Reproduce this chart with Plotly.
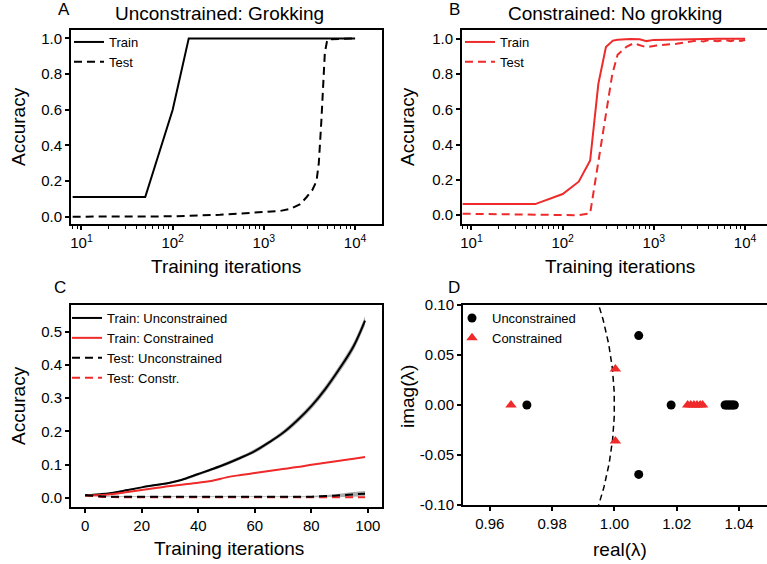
import numpy as np
import plotly.graph_objects as go

W, H = 767, 564

# ---------------- data ----------------
# Panel A: unconstrained (grokking)
a_train_x = [8, 50, 100, 150, 10000]
a_train_y = [0.11, 0.11, 0.60, 1.0, 1.0]
a_test_x = [8, 100, 330, 1000, 1500, 1930, 2500, 2930, 3400, 3775, 4000, 4270, 4660, 4900, 5040, 10000]
a_test_y = [0.0, 0.002, 0.011, 0.024, 0.032, 0.043, 0.07, 0.109, 0.15, 0.2, 0.3, 0.54, 0.92, 0.98, 0.995, 1.0]

# Panel B: constrained (no grokking)
b_train_x = [8, 50, 100, 150, 200, 246, 298, 355, 400, 550, 700, 830, 1000, 2000, 5000, 10000]
b_train_y = [0.063, 0.063, 0.12, 0.19, 0.31, 0.745, 0.953, 0.99, 0.995, 0.999, 0.997, 0.987, 0.994, 0.998, 1.0, 1.0]
b_test_x = [8, 100, 150, 200, 250, 300, 350, 400, 500, 600, 830, 1070, 1770, 2930, 3500, 4000,
            5000, 6000, 7000, 8000, 9000, 10000]
b_test_y = [0.008, 0.003, 0.0, 0.01, 0.33, 0.58, 0.8, 0.91, 0.955, 0.975, 0.952, 0.962, 0.972, 0.99,
            0.985, 0.993, 0.986, 0.994, 0.987, 0.995, 0.988, 0.993]

# Panel C: first 100 iterations (mean and spread)
c_x = [0, 5, 10, 15, 20, 25, 30, 34, 40, 45, 50, 55, 60, 65, 70, 75, 80, 85, 90, 95, 99]
c_train_unc = [0.007, 0.011, 0.016, 0.024, 0.032, 0.039, 0.046, 0.054, 0.072, 0.087, 0.103, 0.121,
               0.141, 0.167, 0.196, 0.233, 0.276, 0.328, 0.389, 0.457, 0.533]
c_train_unc_sd = [0.001, 0.001, 0.002, 0.002, 0.002, 0.003, 0.003, 0.003, 0.004, 0.004, 0.005, 0.005,
                  0.006, 0.006, 0.007, 0.008, 0.009, 0.010, 0.011, 0.012, 0.013]
c_train_con = [0.007, 0.009, 0.012, 0.018, 0.024, 0.030, 0.036, 0.040, 0.046, 0.052, 0.062, 0.069,
               0.075, 0.081, 0.087, 0.093, 0.100, 0.106, 0.112, 0.118, 0.123]
c_train_con_sd = [0.0015] * 21
c_test_unc = [0.009, 0.005, 0.004, 0.004, 0.004, 0.004, 0.004, 0.004, 0.004, 0.004, 0.004, 0.004,
              0.004, 0.004, 0.004, 0.004, 0.004, 0.006, 0.008, 0.011, 0.013]
c_test_unc_sd = [0.001, 0.001, 0.001, 0.001, 0.001, 0.001, 0.001, 0.001, 0.001, 0.001, 0.001, 0.001,
                 0.001, 0.001, 0.001, 0.001, 0.002, 0.003, 0.005, 0.007, 0.008]
c_test_con = [0.009, 0.004, 0.003, 0.002, 0.002, 0.002, 0.002, 0.002, 0.002, 0.002, 0.002, 0.002,
              0.002, 0.002, 0.002, 0.002, 0.002, 0.002, 0.002, 0.002, 0.002]

# Panel D: eigenvalues
d_unc_re = [0.9719, 1.0078, 1.0078, 1.0182, 1.0355, 1.036, 1.0365, 1.037, 1.0375, 1.038, 1.0385]
d_unc_im = [0.0, 0.0694, -0.0694, 0.0, 0.0, 0.0, 0.0, 0.0, 0.0, 0.0, 0.0]
d_con_re = [0.9668, 1.0003, 1.0003, 1.0235, 1.0245, 1.0255, 1.0265, 1.0275, 1.0283]
d_con_im = [0.0, 0.036, -0.036, 0.0, 0.0, 0.0, 0.0, 0.0, 0.0]

log_ticks = [10, 100, 1000, 10000]
log_ticktext = ["10<sup>1</sup>", "10<sup>2</sup>", "10<sup>3</sup>", "10<sup>4</sup>"]
acc_ticks = [0.0, 0.2, 0.4, 0.6, 0.8, 1.0]
c_yticks = [0.0, 0.1, 0.2, 0.3, 0.4, 0.5]
c_xticks = [0, 20, 40, 60, 80, 100]
d_xticks = [0.96, 0.98, 1.00, 1.02, 1.04]
d_yticks = [-0.10, -0.05, 0.0, 0.05, 0.10]

RED = "#ee2a2a"
FONT = "Arial, Liberation Sans, sans-serif"
DASH = "8px,5px"

def xd(a, b):
    return [a / W, b / W]

def yd(top, bottom):
    return [1 - bottom / H, 1 - top / H]

def px(x, y):
    return x / W, 1 - y / H

minor_log = [m * 10 ** k for k in range(0, 5) for m in range(2, 10)]

fig = go.Figure()

# ---- Panel A ----
fig.add_trace(go.Scatter(x=a_train_x, y=a_train_y, mode="lines", name="Train",
                         line=dict(color="black", width=2), xaxis="x", yaxis="y", legend="legend"))
fig.add_trace(go.Scatter(x=a_test_x, y=a_test_y, mode="lines", name="Test",
                         line=dict(color="black", width=2, dash=DASH), xaxis="x", yaxis="y", legend="legend"))

# ---- Panel B ----
fig.add_trace(go.Scatter(x=b_train_x, y=b_train_y, mode="lines", name="Train",
                         line=dict(color=RED, width=2), xaxis="x2", yaxis="y2", legend="legend2"))
fig.add_trace(go.Scatter(x=b_test_x, y=b_test_y, mode="lines", name="Test",
                         line=dict(color=RED, width=2, dash=DASH), xaxis="x2", yaxis="y2", legend="legend2"))

# ---- Panel C ----
def band(x, y, sd, color, ax, ay):
    lo = [v - s for v, s in zip(y, sd)]
    hi = [v + s for v, s in zip(y, sd)]
    fig.add_trace(go.Scatter(x=x, y=lo, mode="lines", line=dict(width=0, color=color, shape="spline"),
                             showlegend=False, hoverinfo="skip", xaxis=ax, yaxis=ay))
    fig.add_trace(go.Scatter(x=x, y=hi, mode="lines", line=dict(width=0, color=color, shape="spline"),
                             fill="tonexty", fillcolor=color, showlegend=False, hoverinfo="skip",
                             xaxis=ax, yaxis=ay))

band(c_x, c_train_unc, c_train_unc_sd, "rgba(120,120,120,0.6)", "x3", "y3")
band(c_x, c_test_unc, c_test_unc_sd, "rgba(120,120,120,0.6)", "x3", "y3")
band(c_x, c_train_con, c_train_con_sd, "rgba(240,120,120,0.4)", "x3", "y3")

fig.add_trace(go.Scatter(x=c_x, y=c_train_unc, mode="lines", name="Train: Unconstrained",
                         line=dict(color="black", width=2, shape="spline"), xaxis="x3", yaxis="y3",
                         legend="legend3", legendrank=1001))
fig.add_trace(go.Scatter(x=c_x, y=c_train_con, mode="lines", name="Train: Constrained",
                         line=dict(color=RED, width=2, shape="spline"), xaxis="x3", yaxis="y3",
                         legend="legend3", legendrank=1002))
fig.add_trace(go.Scatter(x=c_x, y=c_test_con, mode="lines", name="Test: Constr.",
                         line=dict(color=RED, width=2, dash=DASH, shape="spline"), xaxis="x3", yaxis="y3",
                         legend="legend3", legendrank=1004))
fig.add_trace(go.Scatter(x=c_x, y=c_test_unc, mode="lines", name="Test: Unconstrained",
                         line=dict(color="black", width=2, dash=DASH, shape="spline"), xaxis="x3", yaxis="y3",
                         legend="legend3", legendrank=1003))

# ---- Panel D ----
theta = np.linspace(-np.arcsin(0.105), np.arcsin(0.105), 80)
fig.add_trace(go.Scatter(x=np.cos(theta), y=np.sin(theta), mode="lines", showlegend=False,
                         line=dict(color="black", width=1.5, dash="6px,4px"), xaxis="x4", yaxis="y4",
                         hoverinfo="skip"))
fig.add_trace(go.Scatter(x=d_unc_re, y=d_unc_im, mode="markers", name="Unconstrained",
                         marker=dict(color="black", size=9, symbol="circle"), xaxis="x4", yaxis="y4",
                         legend="legend4"))
fig.add_trace(go.Scatter(x=d_con_re, y=d_con_im, mode="markers", name="Constrained",
                         marker=dict(color=RED, size=10, symbol="triangle-up"), xaxis="x4", yaxis="y4",
                         legend="legend4"))

axis_common = dict(showline=True, linewidth=2, linecolor="black", ticks="outside", ticklen=4,
                   tickwidth=1.5, tickcolor="black", showgrid=False, zeroline=False, automargin=False,
                   tickfont=dict(size=15, color="black", family=FONT))

fig.update_layout(
    width=W, height=H, margin=dict(l=0, r=0, t=0, b=0, autoexpand=False),
    paper_bgcolor="white", plot_bgcolor="white",
    font=dict(family=FONT, color="black"),
    xaxis=dict(axis_common, type="log", domain=xd(71, 382), range=[0.885, 4.295], mirror=True,
               tickvals=log_ticks, ticktext=log_ticktext, anchor="y",
               minor=dict(tickvals=minor_log, ticks="outside", ticklen=3, tickwidth=1.2, tickcolor="black")),
    yaxis=dict(axis_common, domain=yd(30, 224), range=[-0.041, 1.047], mirror=True,
               tickvals=acc_ticks, tickformat=".1f", anchor="x"),
    xaxis2=dict(axis_common, type="log", domain=xd(462, 767), range=[0.896, 0.896 + 305 / 91.2], mirror=True,
                tickvals=log_ticks, ticktext=log_ticktext, anchor="y2",
                minor=dict(tickvals=minor_log, ticks="outside", ticklen=3, tickwidth=1.2, tickcolor="black")),
    yaxis2=dict(axis_common, domain=yd(30, 224), range=[-0.05, 1.05], mirror=False,
                tickvals=acc_ticks, tickformat=".1f", anchor="x2"),
    xaxis3=dict(axis_common, domain=xd(71, 382), range=[-5, 105], mirror=True,
                tickvals=c_xticks, anchor="y3"),
    yaxis3=dict(axis_common, domain=yd(305, 507), range=[-0.027, 0.58], mirror=True,
                tickvals=c_yticks, tickformat=".1f", anchor="x3"),
    xaxis4=dict(axis_common, domain=xd(463, 767), range=[0.9514, 0.9514 + 304 / 3116], mirror=True,
                tickvals=d_xticks, tickformat=".2f", anchor="y4"),
    yaxis4=dict(axis_common, domain=yd(305, 505), range=[-0.1, 0.1], mirror=False,
                tickvals=d_yticks, ticktext=["%.2f" % v for v in d_yticks], anchor="x4"),
    showlegend=True,
)

leg_common = dict(xanchor="left", yanchor="top", bgcolor="rgba(0,0,0,0)", traceorder="normal",
                  font=dict(size=13, family=FONT, color="black"), tracegroupgap=0, itemwidth=30)
lx, ly = px(69, 27)
fig.update_layout(legend=dict(leg_common, x=lx, y=ly))
lx, ly = px(460, 27)
fig.update_layout(legend2=dict(leg_common, x=lx, y=ly))
lx, ly = px(67, 303)
fig.update_layout(legend3=dict(leg_common, x=lx, y=ly))
lx, ly = px(452, 303)
fig.update_layout(legend4=dict(leg_common, x=lx, y=ly))

annots = [
    ("A", 64, 10, 17, 0), ("B", 454, 10, 17, 0), ("C", 60, 287, 17, 0), ("D", 454, 287, 17, 0),
    ("Unconstrained: Grokking", 219, 13, 19, 0), ("Constrained: No grokking", 615, 13, 19, 0),
    ("Accuracy", 18, 127, 19, -90), ("Accuracy", 407, 127, 19, -90),
    ("Accuracy", 18, 406, 19, -90), ("imag(λ)", 407, 397, 19, -90),
    ("Training iterations", 226, 266, 19, 0), ("Training iterations", 620, 266, 19, 0),
    ("Training iterations", 229, 548, 19, 0), ("real(λ)", 620, 549, 19, 0),
]
for text, x, y, size, ang in annots:
    ax_, ay_ = px(x, y)
    fig.add_annotation(text=text, x=ax_, y=ay_, xref="paper", yref="paper", showarrow=False,
                       xanchor="center", yanchor="middle", textangle=ang,
                       font=dict(size=size, family=FONT, color="black"))

fig.write_html("out.html", config={"displayModeBar": False},
               post_script="document.body.style.margin='0';document.body.style.padding='0';")
